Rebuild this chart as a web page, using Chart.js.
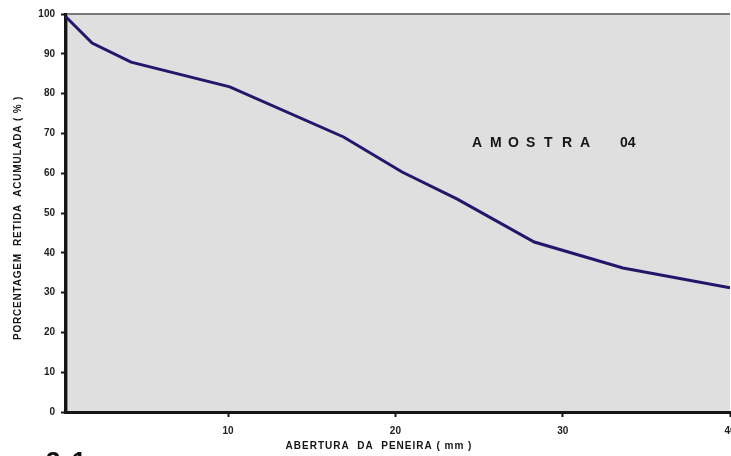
<!DOCTYPE html>
<html>
<head>
<meta charset="utf-8">
<script src="https://cdn.jsdelivr.net/npm/chart.js@4"></script>
<style>
  html, body { margin: 0; padding: 0; background: #fff; overflow: hidden; width: 731px; height: 456px; }
  #wrap { position: relative; width: 760px; height: 456px; }
  #fig { position: absolute; left: 46px; top: 446px; font: bold 26px "Liberation Sans", Arial, sans-serif; color: #111; letter-spacing: 2px; }
</style>
</head>
<body>
<div id="wrap"><canvas id="c" width="760" height="456"></canvas><div id="fig">3.1</div></div>
<script>
// Curva granulométrica — abertura da peneira (mm) x porcentagem retida acumulada (%)
const abertura = [0.25, 1.87, 4.2, 10.1, 16.9, 20.4, 23.7, 28.3, 33.6, 40];
const retidaAcumulada = [99.5, 92.7, 87.9, 81.7, 69.1, 60.3, 53.5, 42.7, 36.2, 31.2];
const xTicks = [10, 20, 30, 40];
const yTicks = [0, 10, 20, 30, 40, 50, 60, 70, 80, 90, 100];
const amostra = 'AMOSTRA';
const amostraNum = '04';
const tituloX = 'ABERTURA  DA  PENEIRA ( mm )';
const tituloY = 'PORCENTAGEM  RETIDA  ACUMULADA ( % )';

const FONT = '"Liberation Sans", Arial, sans-serif';

const decor = {
  id: 'decor',
  beforeDraw(chart) {
    const { ctx, chartArea: a } = chart;
    ctx.save();
    ctx.fillStyle = '#dfdfdf';
    ctx.fillRect(a.left, a.top, a.right - a.left, a.bottom - a.top);
    // top border
    ctx.strokeStyle = '#7a7a7a';
    ctx.lineWidth = 2;
    ctx.beginPath();
    ctx.moveTo(a.left, a.top);
    ctx.lineTo(a.right, a.top);
    ctx.stroke();
    // shadow next to the vertical axis
    ctx.strokeStyle = '#8a8a8a';
    ctx.lineWidth = 2;
    ctx.beginPath();
    ctx.moveTo(a.left + 2, a.top);
    ctx.lineTo(a.left + 2, a.bottom);
    ctx.stroke();
    ctx.restore();
  },
  afterDraw(chart) {
    const { ctx } = chart;
    ctx.save();
    ctx.fillStyle = '#151515';
    ctx.font = 'bold 14px ' + FONT;
    ctx.textBaseline = 'middle';
    ctx.textAlign = 'left';
    // spaced-out sample label
    [...amostra].forEach((ch, i) => ctx.fillText(ch, 472 + i * 18, 143));
    ctx.fillText(amostraNum, 620, 143);
    ctx.font = 'bold 10px ' + FONT;
    ctx.textAlign = 'center';
    ctx.letterSpacing = '1px';
    ctx.fillText(tituloX, 379, 446);
    ctx.letterSpacing = '0.8px';
    ctx.translate(18, 218);
    ctx.rotate(-Math.PI / 2);
    ctx.fillText(tituloY, 0, 0);
    ctx.restore();
  }
};

new Chart(document.getElementById('c'), {
  type: 'scatter',
  data: {
    datasets: [{
      data: abertura.map((x, i) => ({ x, y: retidaAcumulada[i] })),
      showLine: true,
      borderColor: '#22176b',
      borderWidth: 3,
      pointRadius: 0,
      tension: 0
    }]
  },
  options: {
    responsive: false,
    animation: false,
    layout: { padding: { top: 14, right: 30, left: 0, bottom: 0 } },
    plugins: { legend: { display: false }, tooltip: { enabled: false } },
    scales: {
      x: {
        type: 'linear',
        min: 0.25,
        max: 40,
        afterBuildTicks: s => { s.ticks = xTicks.map(v => ({ value: v })); },
        afterFit: s => { s.height = 44; },
        border: { color: '#151515', width: 3 },
        grid: { drawOnChartArea: false, tickLength: 5, tickColor: '#151515', tickWidth: 2 },
        ticks: { color: '#222', font: { family: FONT, size: 10, weight: 'bold' }, padding: 8, maxRotation: 0 }
      },
      y: {
        min: 0,
        max: 100,
        afterBuildTicks: s => { s.ticks = yTicks.map(v => ({ value: v })); },
        afterFit: s => { s.width = 65; },
        border: { color: '#151515', width: 3 },
        grid: { drawOnChartArea: false, tickLength: 4, tickColor: '#151515', tickWidth: 2 },
        ticks: { color: '#222', font: { family: FONT, size: 10, weight: 'bold' }, padding: 6 }
      }
    }
  },
  plugins: [decor]
});
</script>
</body>
</html>
